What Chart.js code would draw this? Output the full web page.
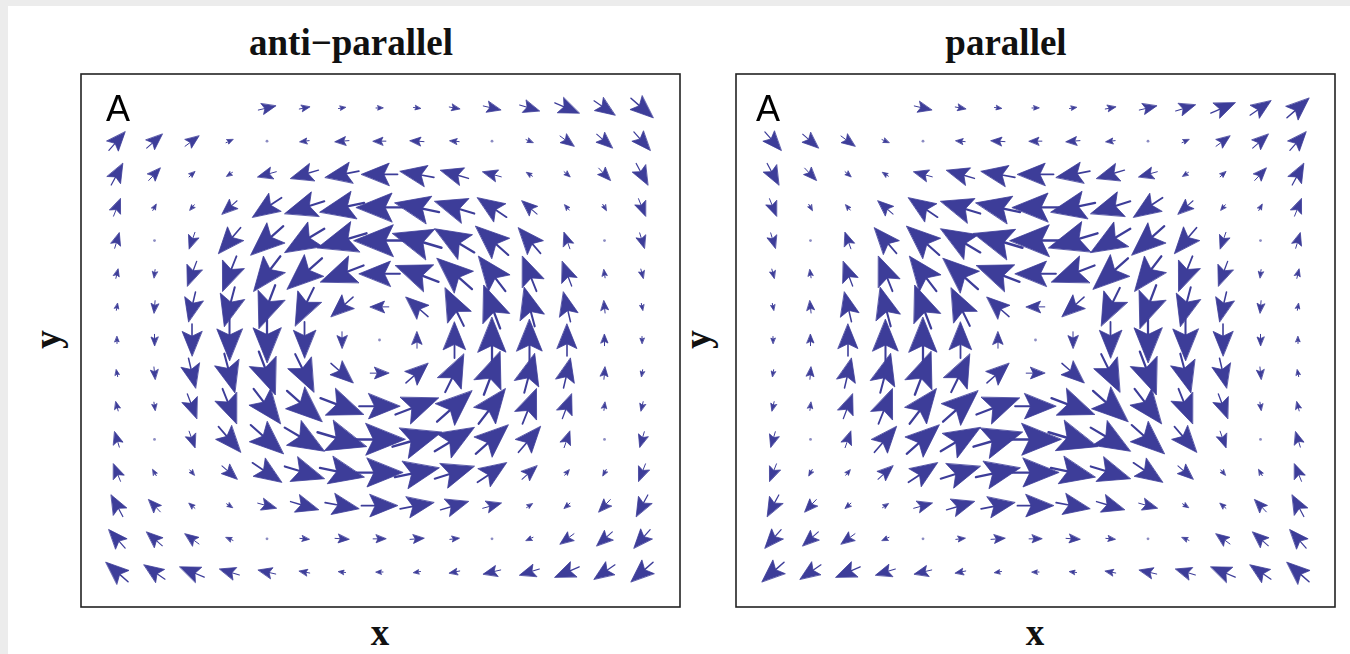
<!DOCTYPE html>
<html>
<head>
<meta charset="utf-8">
<script src="https://cdn.jsdelivr.net/npm/chart.js@4.4.1/dist/chart.umd.min.js"></script>
<style>
  body { margin: 0; background: #ececec; width: 1350px; height: 654px; overflow: hidden; }
  #page { position: absolute; left: 8px; top: 6px; width: 1342px; height: 648px; background: #fff; }
  canvas { position: absolute; }
  .lbl { position: absolute; font-family: "Liberation Serif", "Times New Roman", serif; font-weight: bold;
         font-size: 37px; line-height: 37px; color: #111; white-space: nowrap; text-align: center; }
  .tag { position: absolute; font-family: "Liberation Sans", Arial, sans-serif; font-size: 36px;
         line-height: 36px; color: #000; }
</style>
</head>
<body>
<div id="page"></div>

<div class="lbl" style="left:151px; top:24px; width:400px;">anti−parallel</div>
<div class="lbl" style="left:806px; top:24px; width:400px;">parallel</div>
<div class="lbl" style="left:330px; top:614px; width:100px;">x</div>
<div class="lbl" style="left:985px; top:614px; width:100px;">x</div>
<div class="lbl" style="left:17px; top:321px; width:60px; transform:rotate(-90deg);">y</div>
<div class="lbl" style="left:667px; top:321px; width:60px; transform:rotate(-90deg);">y</div>

<canvas id="anti" width="601" height="535" style="left:80px; top:73px;"></canvas>
<canvas id="par" width="601" height="535" style="left:735px; top:73px;"></canvas>

<div class="tag" style="left:106px; top:91px;">A</div>
<div class="tag" style="left:756px; top:91px;">A</div>

<script>
// grid positions (columns left->right, rows top->bottom)
var gridX = [0, 1, 2, 3, 4, 5, 6, 7, 8, 9, 10, 11, 12, 13, 14];
var gridY = [14, 13, 12, 11, 10, 9, 8, 7, 6, 5, 4, 3, 2, 1, 0];

// anti-parallel: x and y components, one row per grid row (null = hidden under label)
var antiU = [
  [null, null, null, null, 1.5, 0.9, 0.6, 0.4, 0.6, 0.9, 1.5, 1.7, 2.1, 1.8, 1.9],
  [1.4, 1.35, 1.2, 0.6, 0, -0.8, -1.2, -1.1, -1.2, -0.8, 0, 0.6, 1.2, 1.35, 1.4],
  [1.0, 1.0, 0.5, -0.4, -1.6, -2.4, -2.9, -3.1, -2.9, -2.4, -1.6, -0.4, 0.5, 1.0, 1.0],
  [0.6, 0.3, -0.3, -1.3, -2.5, -3.4, -3.8, -4.0, -3.8, -3.4, -2.5, -1.3, -0.3, 0.3, 0.6],
  [0.4, 0, -0.5, -1.9, -2.8, -3.4, -4.2, -4.4, -4.2, -3.4, -2.8, -1.9, -0.5, 0, 0.4],
  [0.2, -0.1, -0.8, -1.2, -2.3, -3.0, -3.7, -3.5, -3.7, -3.0, -2.3, -1.2, -0.8, -0.1, 0.2],
  [0.1, -0.1, -0.6, -0.9, -1.4, -1.6, -1.9, -1.6, -1.9, -1.6, -1.4, -0.9, -0.6, -0.1, 0.1],
  [0, 0, 0, 0, 0, 0, 0, 0, 0, 0, 0, 0, 0, 0, 0],
  [-0.1, 0.1, 0.6, 0.9, 1.4, 1.6, 1.9, 1.6, 1.9, 1.6, 1.4, 0.9, 0.6, 0.1, -0.1],
  [-0.2, 0.1, 0.8, 1.2, 2.3, 3.0, 3.7, 3.5, 3.7, 3.0, 2.3, 1.2, 0.8, 0.1, -0.2],
  [-0.4, 0, 0.5, 1.9, 2.8, 3.4, 4.2, 4.4, 4.2, 3.4, 2.8, 1.9, 0.5, 0, -0.4],
  [-0.6, -0.3, 0.3, 1.3, 2.5, 3.4, 3.8, 4.0, 3.8, 3.4, 2.5, 1.3, 0.3, -0.3, -0.6],
  [-1.0, -1.0, -0.5, 0.4, 1.6, 2.4, 2.9, 3.1, 2.9, 2.4, 1.6, 0.4, -0.5, -1.0, -1.0],
  [-1.4, -1.35, -1.2, -0.6, 0, 0.8, 1.2, 1.1, 1.2, 0.8, 0, -0.6, -1.2, -1.35, -1.4],
  [-1.9, -1.8, -2.1, -1.7, -1.5, -0.9, -0.6, -0.4, -0.6, -0.9, -1.5, -1.7, -2.1, -1.8, -1.9]
];
var antiV = [
  [null, null, null, null, 0.4, 0.2, 0.1, 0, -0.1, -0.2, -0.4, -0.6, -1.0, -1.4, -1.9],
  [1.8, 1.35, 1.0, 0.3, 0, -0.1, -0.1, 0, 0.1, 0.1, 0, -0.3, -1.0, -1.35, -1.8],
  [2.1, 1.2, 0.5, -0.3, -0.5, -0.8, -0.6, 0, 0.6, 0.8, 0.5, 0.3, -0.5, -1.2, -2.1],
  [1.7, 0.6, -0.4, -1.3, -1.9, -1.2, -0.9, 0, 0.9, 1.2, 1.9, 1.3, 0.4, -0.6, -1.7],
  [1.5, 0, -1.6, -2.5, -2.8, -2.3, -1.4, 0, 1.4, 2.3, 2.8, 2.5, 1.6, 0, -1.5],
  [0.9, -0.8, -2.4, -3.4, -3.4, -3.0, -1.6, 0, 1.6, 3.0, 3.4, 3.4, 2.4, 0.8, -0.9],
  [0.6, -1.2, -2.9, -3.8, -4.2, -3.7, -1.9, 0, 1.9, 3.7, 4.2, 3.8, 2.9, 1.2, -0.6],
  [0.4, -1.1, -3.1, -4.0, -4.4, -3.5, -1.6, 0, 1.6, 3.5, 4.4, 4.0, 3.1, 1.1, -0.4],
  [0.6, -1.2, -2.9, -3.8, -4.2, -3.7, -1.9, 0, 1.9, 3.7, 4.2, 3.8, 2.9, 1.2, -0.6],
  [0.9, -0.8, -2.4, -3.4, -3.4, -3.0, -1.6, 0, 1.6, 3.0, 3.4, 3.4, 2.4, 0.8, -0.9],
  [1.5, 0, -1.6, -2.5, -2.8, -2.3, -1.4, 0, 1.4, 2.3, 2.8, 2.5, 1.6, 0, -1.5],
  [1.7, 0.6, -0.4, -1.3, -1.9, -1.2, -0.9, 0, 0.9, 1.2, 1.9, 1.3, 0.4, -0.6, -1.7],
  [2.1, 1.2, 0.5, -0.3, -0.5, -0.8, -0.6, 0, 0.6, 0.8, 0.5, 0.3, -0.5, -1.2, -2.1],
  [1.8, 1.35, 1.0, 0.3, 0, -0.1, -0.1, 0, 0.1, 0.1, 0, -0.3, -1.0, -1.35, -1.8],
  [1.9, 1.4, 1.0, 0.6, 0.4, 0.2, 0.1, 0, -0.1, -0.2, -0.4, -0.6, -1.0, -1.4, -1.9]
];

// parallel
var parU = [
  [null, null, null, null, 1.5, 0.9, 0.6, 0.4, 0.6, 0.9, 1.5, 1.7, 2.1, 1.8, 1.9],
  [1.4, 1.35, 1.2, 0.6, 0, -0.8, -1.2, -1.1, -1.2, -0.8, 0, 0.6, 1.2, 1.35, 1.4],
  [1.0, 1.0, 0.5, -0.4, -1.6, -2.4, -2.9, -3.1, -2.9, -2.4, -1.6, -0.4, 0.5, 1.0, 1.0],
  [0.6, 0.3, -0.3, -1.3, -2.5, -3.4, -3.8, -4.0, -3.8, -3.4, -2.5, -1.3, -0.3, 0.3, 0.6],
  [0.4, 0, -0.5, -1.9, -2.8, -3.4, -4.2, -4.4, -4.2, -3.4, -2.8, -1.9, -0.5, 0, 0.4],
  [0.2, -0.1, -0.8, -1.2, -2.3, -3.0, -3.7, -3.5, -3.7, -3.0, -2.3, -1.2, -0.8, -0.1, 0.2],
  [0.1, -0.1, -0.6, -0.9, -1.4, -1.6, -1.9, -1.6, -1.9, -1.6, -1.4, -0.9, -0.6, -0.1, 0.1],
  [0, 0, 0, 0, 0, 0, 0, 0, 0, 0, 0, 0, 0, 0, 0],
  [-0.1, 0.1, 0.6, 0.9, 1.4, 1.6, 1.9, 1.6, 1.9, 1.6, 1.4, 0.9, 0.6, 0.1, -0.1],
  [-0.2, 0.1, 0.8, 1.2, 2.3, 3.0, 3.7, 3.5, 3.7, 3.0, 2.3, 1.2, 0.8, 0.1, -0.2],
  [-0.4, 0, 0.5, 1.9, 2.8, 3.4, 4.2, 4.4, 4.2, 3.4, 2.8, 1.9, 0.5, 0, -0.4],
  [-0.6, -0.3, 0.3, 1.3, 2.5, 3.4, 3.8, 4.0, 3.8, 3.4, 2.5, 1.3, 0.3, -0.3, -0.6],
  [-1.0, -1.0, -0.5, 0.4, 1.6, 2.4, 2.9, 3.1, 2.9, 2.4, 1.6, 0.4, -0.5, -1.0, -1.0],
  [-1.4, -1.35, -1.2, -0.6, 0, 0.8, 1.2, 1.1, 1.2, 0.8, 0, -0.6, -1.2, -1.35, -1.4],
  [-1.9, -1.8, -2.1, -1.7, -1.5, -0.9, -0.6, -0.4, -0.6, -0.9, -1.5, -1.7, -2.1, -1.8, -1.9]
];
var parV = [
  [null, null, null, null, -0.4, -0.2, -0.1, 0, 0.1, 0.2, 0.4, 0.6, 1.0, 1.4, 1.9],
  [-1.8, -1.35, -1.0, -0.3, 0, 0.1, 0.1, 0, -0.1, -0.1, 0, 0.3, 1.0, 1.35, 1.8],
  [-2.1, -1.2, -0.5, 0.3, 0.5, 0.8, 0.6, 0, -0.6, -0.8, -0.5, -0.3, 0.5, 1.2, 2.1],
  [-1.7, -0.6, 0.4, 1.3, 1.9, 1.2, 0.9, 0, -0.9, -1.2, -1.9, -1.3, -0.4, 0.6, 1.7],
  [-1.5, 0, 1.6, 2.5, 2.8, 2.3, 1.4, 0, -1.4, -2.3, -2.8, -2.5, -1.6, 0, 1.5],
  [-0.9, 0.8, 2.4, 3.4, 3.4, 3.0, 1.6, 0, -1.6, -3.0, -3.4, -3.4, -2.4, -0.8, 0.9],
  [-0.6, 1.2, 2.9, 3.8, 4.2, 3.7, 1.9, 0, -1.9, -3.7, -4.2, -3.8, -2.9, -1.2, 0.6],
  [-0.4, 1.1, 3.1, 4.0, 4.4, 3.5, 1.6, 0, -1.6, -3.5, -4.4, -4.0, -3.1, -1.1, 0.4],
  [-0.6, 1.2, 2.9, 3.8, 4.2, 3.7, 1.9, 0, -1.9, -3.7, -4.2, -3.8, -2.9, -1.2, 0.6],
  [-0.9, 0.8, 2.4, 3.4, 3.4, 3.0, 1.6, 0, -1.6, -3.0, -3.4, -3.4, -2.4, -0.8, 0.9],
  [-1.5, 0, 1.6, 2.5, 2.8, 2.3, 1.4, 0, -1.4, -2.3, -2.8, -2.5, -1.6, 0, 1.5],
  [-1.7, -0.6, 0.4, 1.3, 1.9, 1.2, 0.9, 0, -0.9, -1.2, -1.9, -1.3, -0.4, 0.6, 1.7],
  [-2.1, -1.2, -0.5, 0.3, 0.5, 0.8, 0.6, 0, -0.6, -0.8, -0.5, -0.3, 0.5, 1.2, 2.1],
  [-1.8, -1.35, -1.0, -0.3, 0, 0.1, 0.1, 0, -0.1, -0.1, 0, 0.3, 1.0, 1.35, 1.8],
  [-1.9, -1.4, -1.0, -0.6, -0.4, -0.2, -0.1, 0, 0.1, 0.2, 0.4, 0.6, 1.0, 1.4, 1.9]
];

var ARROW_COLOR = "#3d3d99";
var ARROW_SCALE = 0.31;   // data units of arrow length per unit of field

function buildPoints(U, V) {
  var pts = [];
  for (var r = 0; r < gridY.length; r++) {
    for (var c = 0; c < gridX.length; c++) {
      if (U[r][c] === null) continue;
      pts.push({ x: gridX[c], y: gridY[r], u: U[r][c], v: V[r][c] });
    }
  }
  return pts;
}

var arrowPlugin = {
  id: "arrows",
  afterDatasetsDraw: function(chart) {
    var ctx = chart.ctx, xs = chart.scales.x, ys = chart.scales.y;
    var pxX = xs.getPixelForValue(1) - xs.getPixelForValue(0);
    var pxY = ys.getPixelForValue(0) - ys.getPixelForValue(1);
    ctx.save();
    ctx.fillStyle = ARROW_COLOR;
    ctx.strokeStyle = ARROW_COLOR;
    ctx.lineCap = "round";
    ctx.lineJoin = "round";
    chart.data.datasets[0].data.forEach(function(p) {
      var cx = xs.getPixelForValue(p.x), cy = ys.getPixelForValue(p.y);
      var ax = p.u * ARROW_SCALE * pxX, ay = -p.v * ARROW_SCALE * pxY;
      var L = Math.hypot(ax, ay);
      if (L < 1.5) {
        ctx.globalAlpha = 0.6;
        ctx.beginPath(); ctx.arc(cx, cy, 1.4, 0, Math.PI * 2); ctx.fill();
        ctx.globalAlpha = 1;
        return;
      }
      var dx = ax / L, dy = ay / L, nx = -dy, ny = dx;
      L = Math.max(L, 7);
      var tx = cx + dx * L / 2, ty = cy + dy * L / 2;
      var bx = cx - dx * L / 2, by = cy - dy * L / 2;
      var h = 0.77 * L, w = 0.31 * L, nd = 0.62 * L;
      // shaft
      ctx.lineWidth = Math.max(1, L * 0.05);
      ctx.beginPath();
      ctx.moveTo(bx, by);
      ctx.lineTo(tx - dx * nd, ty - dy * nd);
      ctx.stroke();
      // head
      ctx.lineWidth = 0.8;
      ctx.beginPath();
      ctx.moveTo(tx, ty);
      ctx.lineTo(tx - dx * h + nx * w, ty - dy * h + ny * w);
      ctx.lineTo(tx - dx * nd, ty - dy * nd);
      ctx.lineTo(tx - dx * h - nx * w, ty - dy * h - ny * w);
      ctx.closePath();
      ctx.fill();
      ctx.stroke();
    });
    ctx.restore();
  }
};

var framePlugin = {
  id: "frame",
  afterDraw: function(chart) {
    var a = chart.chartArea, ctx = chart.ctx;
    ctx.save();
    ctx.strokeStyle = "#222";
    ctx.lineWidth = 1.6;
    ctx.strokeRect(a.left + 1, a.top + 1, a.right - a.left - 2, a.bottom - a.top - 2);
    ctx.restore();
  }
};

function makeChart(id, U, V, xMin, xMax) {
  return new Chart(document.getElementById(id).getContext("2d"), {
    type: "scatter",
    data: { datasets: [{ data: buildPoints(U, V), pointRadius: 0, pointHoverRadius: 0 }] },
    options: {
      responsive: false,
      animation: false,
      layout: { padding: 0 },
      plugins: { legend: { display: false }, tooltip: { enabled: false } },
      scales: {
        x: { type: "linear", min: xMin, max: xMax, display: false },
        y: { type: "linear", min: -1.086, max: 15.056, display: false }
      }
    },
    plugins: [arrowPlugin, framePlugin]
  });
}

makeChart("anti", antiU, antiV, -0.987, 15.04);
makeChart("par", parU, parV, -1.013, 15.013);
</script>
</body>
</html>
